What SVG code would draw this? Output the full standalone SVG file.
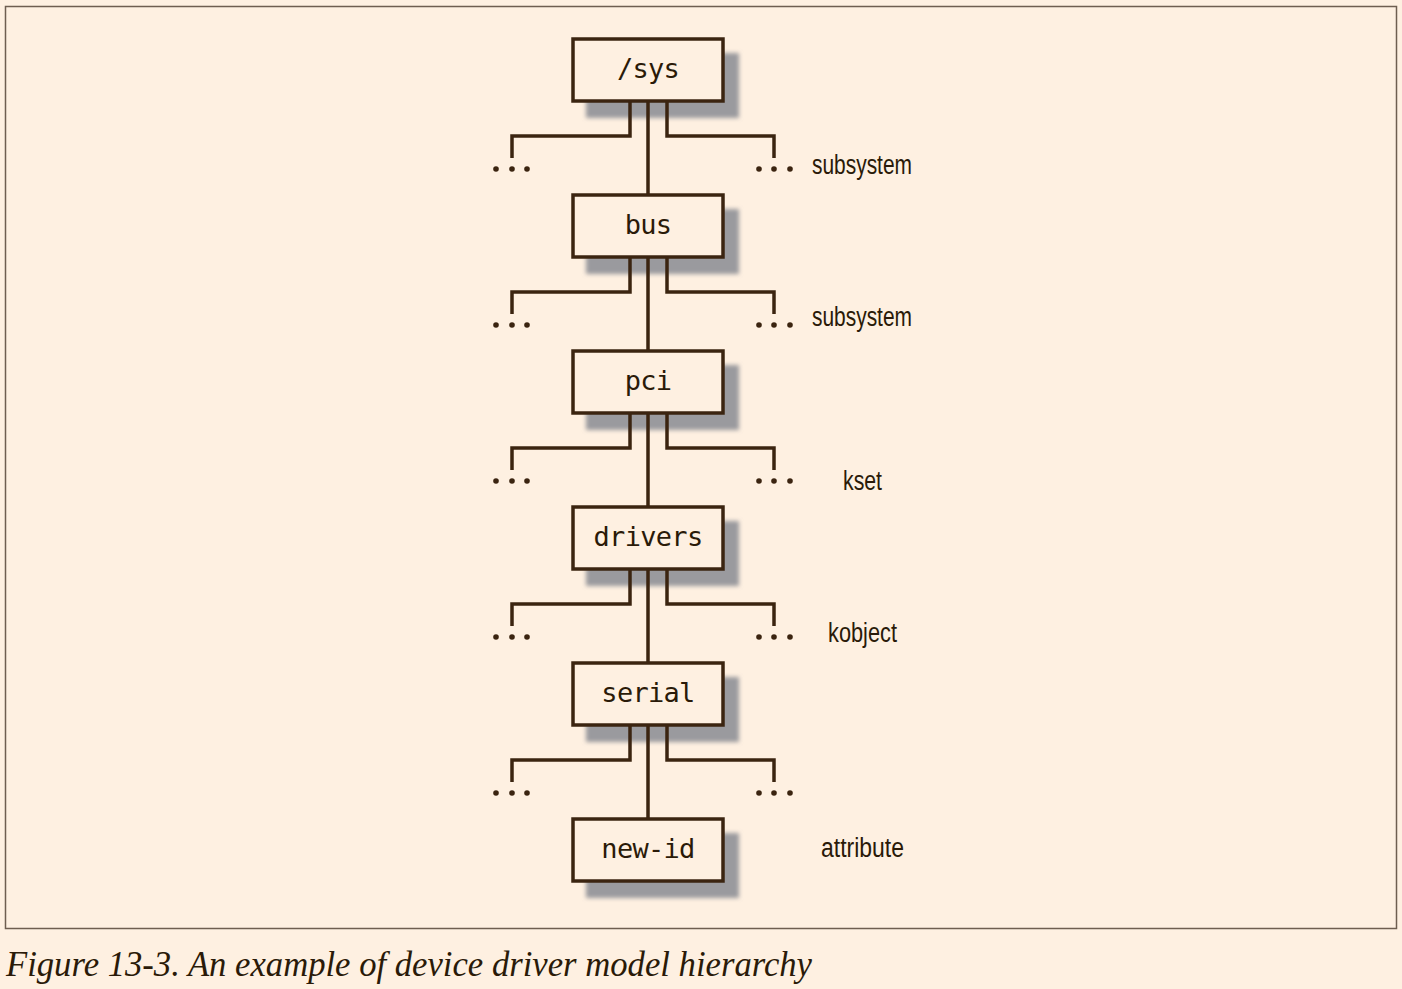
<svg xmlns="http://www.w3.org/2000/svg" width="1402" height="989" viewBox="0 0 1402 989">
<style>
.box{fill:#fef0e1;stroke:#3b2410;stroke-width:3.5}
.shadow{fill:#9a9a9e;filter:url(#blur)}
.line{fill:none;stroke:#3b2410;stroke-width:3.5}
.dot{fill:#3b2410}
.mono{font-family:"DejaVu Sans Mono","Liberation Mono",monospace;font-size:27px;letter-spacing:-0.7px;fill:#2a1a08;text-anchor:middle}
.lbl{font-family:"Liberation Sans",sans-serif;font-size:27px;fill:#2a1a08}
.cap{font-family:"Liberation Serif",serif;font-style:italic;font-size:35px;fill:#2a1a08}
</style>
<defs>
<filter id="blur" x="-10%" y="-20%" width="120%" height="140%"><feGaussianBlur stdDeviation="2"/></filter>
<g id="br">
<path class="line" d="M630,101 V136 H512 V158"/>
<path class="line" d="M667,101 V136 H774 V158"/>
<circle class="dot" cx="496" cy="169" r="2.8"/><circle class="dot" cx="512" cy="169" r="2.8"/><circle class="dot" cx="527" cy="169" r="2.8"/>
<circle class="dot" cx="759" cy="169" r="2.8"/><circle class="dot" cx="774" cy="169" r="2.8"/><circle class="dot" cx="790" cy="169" r="2.8"/>
</g>
</defs>
<rect x="0" y="0" width="1402" height="989" fill="#fef0e1"/>
<rect x="5.5" y="6.5" width="1391" height="922" fill="none" stroke="#6e5e50" stroke-width="1.5"/>
<g id="shadows">
<rect class="shadow" x="586" y="53" width="153" height="65"/>
<rect class="shadow" x="586" y="209" width="153" height="65"/>
<rect class="shadow" x="586" y="365" width="153" height="65"/>
<rect class="shadow" x="586" y="521" width="153" height="65"/>
<rect class="shadow" x="586" y="677" width="153" height="65"/>
<rect class="shadow" x="586" y="833" width="153" height="65"/>
</g>
<g id="connectors">
<path class="line" d="M648,101 V195 M648,257 V351 M648,413 V507 M648,569 V663 M648,725 V819"/>
<use href="#br"/>
<use href="#br" transform="translate(0,156)"/>
<use href="#br" transform="translate(0,312)"/>
<use href="#br" transform="translate(0,468)"/>
<use href="#br" transform="translate(0,624)"/>
</g>
<g id="n-sys"><rect class="box" x="573" y="39" width="150" height="62"/><text class="mono" x="648" y="78">/sys</text></g>
<g id="n-bus"><rect class="box" x="573" y="195" width="150" height="62"/><text class="mono" x="648" y="234">bus</text></g>
<g id="n-pci"><rect class="box" x="573" y="351" width="150" height="62"/><text class="mono" x="648" y="390">pci</text></g>
<g id="n-drivers"><rect class="box" x="573" y="507" width="150" height="62"/><text class="mono" x="648" y="546">drivers</text></g>
<g id="n-serial"><rect class="box" x="573" y="663" width="150" height="62"/><text class="mono" x="648" y="702">serial</text></g>
<g id="n-newid"><rect class="box" x="573" y="819" width="150" height="62"/><text class="mono" x="648" y="858">new-id</text></g>
<g id="labels">
<text class="lbl" x="812" y="174" textLength="100" lengthAdjust="spacingAndGlyphs">subsystem</text>
<text class="lbl" x="812" y="326" textLength="100" lengthAdjust="spacingAndGlyphs">subsystem</text>
<text class="lbl" x="843" y="490" textLength="39" lengthAdjust="spacingAndGlyphs">kset</text>
<text class="lbl" x="828" y="642" textLength="69" lengthAdjust="spacingAndGlyphs">kobject</text>
<text class="lbl" x="821" y="857" textLength="83" lengthAdjust="spacingAndGlyphs">attribute</text>
</g>
<text class="cap" x="6" y="976" textLength="806" lengthAdjust="spacingAndGlyphs">Figure 13-3. An example of device driver model hierarchy</text>
</svg>
